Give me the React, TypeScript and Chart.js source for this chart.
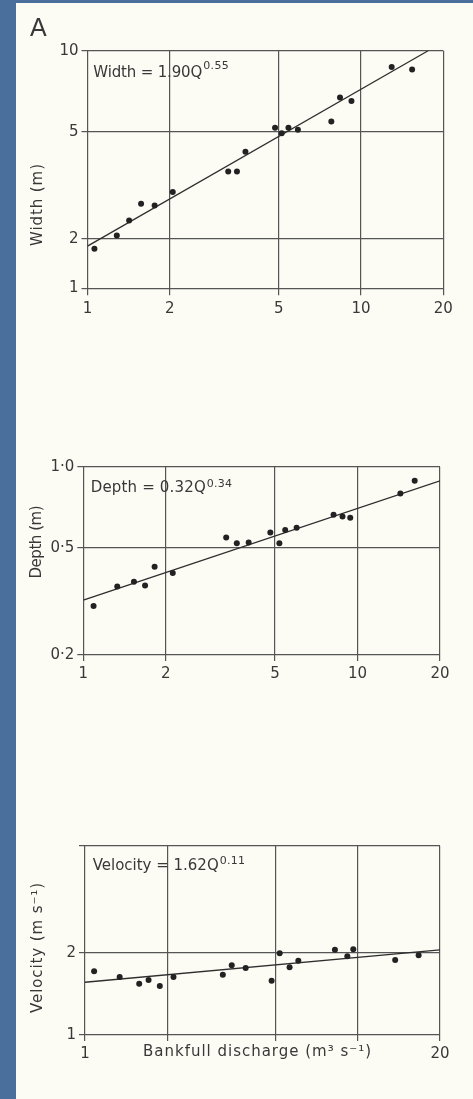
import React, { useEffect, useRef } from 'react';
import { Chart, registerables } from 'chart.js';

Chart.register(...registerables);

// ---------------- DATA ----------------
const dischargeTicks = [1, 2, 5, 10, 20];

// Width panel
const widthQ = [1.06, 1.28, 1.42, 1.57, 1.76, 2.05, 3.27, 3.52, 3.78, 4.85, 5.13, 5.43, 5.88, 7.79, 8.38, 9.23, 12.95, 15.38];
const widthM = [1.84, 2.06, 2.34, 2.7, 2.66, 2.99, 3.56, 3.56, 4.21, 5.18, 4.94, 5.17, 5.09, 5.46, 6.7, 6.5, 8.7, 8.52];
const widthFitQ = [1, 17.6];
const widthFitM = [1.88, 10];
const widthAxisMin = 1.31;
const widthTickValues = [widthAxisMin, 2, 5, 10];
const widthTickLabels = ['1', '2', '5', '10'];
const widthXLabels = ['1', '2', '5', '10', '20'];

// Depth panel
const depthQ = [1.09, 1.33, 1.53, 1.68, 1.82, 2.12, 3.32, 3.63, 4.01, 4.81, 5.19, 5.45, 6.0, 8.18, 8.82, 9.41, 14.34, 16.17];
const depthM = [0.304, 0.359, 0.374, 0.362, 0.425, 0.403, 0.546, 0.52, 0.523, 0.57, 0.52, 0.582, 0.593, 0.663, 0.654, 0.646, 0.796, 0.887];
const depthFitQ = [1, 20];
const depthFitM = [0.32, 0.886];
const depthTickValues = [0.2, 0.5, 1.0];
const depthTickLabels = ['0·2', '0·5', '1·0'];
const depthXLabels = ['1', '2', '5', '10', '20'];

// Velocity panel
const velocityQ = [1.08, 1.34, 1.58, 1.71, 1.88, 2.11, 3.2, 3.45, 3.88, 4.83, 5.17, 5.62, 6.05, 8.24, 9.15, 9.62, 13.7, 16.7];
const velocityV = [1.71, 1.63, 1.54, 1.59, 1.51, 1.63, 1.66, 1.8, 1.76, 1.58, 1.99, 1.77, 1.87, 2.05, 1.94, 2.06, 1.88, 1.96];
const velocityFitQ = [1, 20];
const velocityFitV = [1.56, 2.05];
const velocityAxisMax = 4.93;
const velocityTickValues = [1, 2, velocityAxisMax];
const velocityTickLabels = ['1', '2', ''];
const velocityXLabels = ['1', '', '', '', '20'];

// ---------------- STYLE ----------------
const FONT = '"DejaVu Sans", "Liberation Sans", sans-serif';
const INK = '#383838';
const GRID = '#555555';
const DOT = '#222222';
const PAPER = '#fcfcf5';
const BLUE = '#4b6f9c';

type TextItem = {
  text: string;
  x: number;
  y: number;
  font?: string;
  width?: number;
  rotate?: boolean;
  align?: CanvasTextAlign;
  sup?: string;
  supFont?: string;
  supDy?: number;
};

function makeTextPlugin(items: TextItem[]) {
  return {
    id: 'paperText',
    afterDraw(chart: any) {
      const ctx: any = chart.ctx;
      for (const it of items) {
        ctx.save();
        ctx.fillStyle = INK;
        ctx.font = it.font || `15px ${FONT}`;
        ctx.textBaseline = 'middle';
        ctx.letterSpacing = '0px';
        let ls = 0;
        if (it.width) {
          const w0 = ctx.measureText(it.text).width;
          ls = (it.width - w0) / Math.max(1, Array.from(it.text).length - 1);
          ctx.letterSpacing = ls + 'px';
        }
        if (it.rotate) {
          ctx.translate(it.x, it.y);
          ctx.rotate(-Math.PI / 2);
          ctx.textAlign = 'center';
          ctx.fillText(it.text, ls / 2, 0);
        } else {
          ctx.textAlign = it.align || 'left';
          ctx.fillText(it.text, it.x, it.y);
          if (it.sup) {
            const w = ctx.measureText(it.text).width;
            ctx.font = it.supFont || `11px ${FONT}`;
            ctx.letterSpacing = '0.3px';
            ctx.textAlign = 'left';
            ctx.fillText(it.sup, it.x + w + 1 - ls, it.y + (it.supDy || -6));
          }
        }
        ctx.restore();
      }
    },
  };
}

type PanelSpec = {
  q: number[];
  v: number[];
  fitQ: number[];
  fitV: number[];
  yMin: number;
  yMax: number;
  yTicks: number[];
  yLabels: string[];
  xLabels: string[];
  yAxisWidth: number;
  xAxisHeight: number;
  padTop: number;
  padRight: number;
  xPad: number;
  texts: TextItem[];
};

function makeConfig(p: PanelSpec): any {
  const tickFont = { family: FONT, size: 15 };
  return {
    type: 'scatter',
    data: {
      datasets: [
        {
          data: p.q.map((q, i) => ({ x: q, y: p.v[i] })),
          pointRadius: 3,
          pointBackgroundColor: DOT,
          pointBorderWidth: 0,
          showLine: false,
        },
        {
          data: p.fitQ.map((q, i) => ({ x: q, y: p.fitV[i] })),
          showLine: true,
          pointRadius: 0,
          borderColor: '#2e2e2e',
          borderWidth: 1.3,
          fill: false,
        },
      ],
    },
    options: {
      animation: false,
      responsive: false,
      events: [],
      layout: { padding: { left: 0, top: p.padTop, right: p.padRight, bottom: 0 } },
      plugins: { legend: { display: false }, tooltip: { enabled: false }, title: { display: false } },
      scales: {
        x: {
          type: 'logarithmic',
          min: 1,
          max: 20,
          afterBuildTicks: (s: any) => {
            s.ticks = dischargeTicks.map((v) => ({ value: v }));
          },
          afterFit: (s: any) => {
            s.height = p.xAxisHeight;
            s.paddingLeft = 0;
            s.paddingRight = 0;
          },
          ticks: {
            autoSkip: false,
            maxRotation: 0,
            minRotation: 0,
            padding: p.xPad,
            color: INK,
            font: tickFont,
            callback: (_v: any, i: number) => p.xLabels[i],
          },
          grid: { color: GRID, lineWidth: 1.2, tickLength: 6, drawTicks: true },
          border: { display: false },
        },
        y: {
          type: 'logarithmic',
          min: p.yMin,
          max: p.yMax,
          afterBuildTicks: (s: any) => {
            s.ticks = p.yTicks.map((v) => ({ value: v }));
          },
          afterFit: (s: any) => {
            s.width = p.yAxisWidth;
            s.paddingTop = 0;
            s.paddingBottom = 0;
          },
          ticks: {
            autoSkip: false,
            padding: 3,
            color: INK,
            font: tickFont,
            callback: (_v: any, i: number) => p.yLabels[i],
          },
          grid: { color: GRID, lineWidth: 1.2, tickLength: 6, drawTicks: true },
          border: { display: false },
        },
      },
    },
    plugins: [makeTextPlugin(p.texts)],
  };
}

function Panel({ spec, top, height }: { spec: PanelSpec; top: number; height: number }) {
  const ref = useRef<HTMLCanvasElement | null>(null);
  useEffect(() => {
    if (!ref.current) return;
    const chart = new Chart(ref.current, makeConfig(spec));
    return () => chart.destroy();
  }, []);
  return (
    <canvas
      ref={ref}
      width={473}
      height={height}
      style={{ position: 'absolute', left: 0, top, width: 473, height, display: 'block' }}
    />
  );
}

const widthSpec: PanelSpec = {
  q: widthQ,
  v: widthM,
  fitQ: widthFitQ,
  fitV: widthFitM,
  yMin: widthAxisMin,
  yMax: 10,
  yTicks: widthTickValues,
  yLabels: widthTickLabels,
  xLabels: widthXLabels,
  yAxisWidth: 87.5,
  xAxisHeight: 50.7,
  padTop: 50.7,
  padRight: 29.7,
  xPad: 5,
  texts: [
    { text: 'A', x: 30, y: 29, font: `25px "Liberation Sans", sans-serif` },
    { text: 'Width = 1.90Q', x: 93.3, y: 72.8, width: 109, sup: '0.55', supDy: -6.6 },
    { text: 'Width (m)', x: 38.3, y: 205, rotate: true, width: 82 },
  ],
};

const depthSpec: PanelSpec = {
  q: depthQ,
  v: depthM,
  fitQ: depthFitQ,
  fitV: depthFitM,
  yMin: 0.2,
  yMax: 1.0,
  yTicks: depthTickValues,
  yLabels: depthTickLabels,
  xLabels: depthXLabels,
  yAxisWidth: 83.3,
  xAxisHeight: 45,
  padTop: 86.7,
  padRight: 33,
  xPad: 4,
  texts: [
    { text: 'Depth = 0.32Q', x: 90.7, y: 108.3, width: 115, sup: '0.34', supDy: -4.5 },
    { text: 'Depth (m)', x: 36.7, y: 162, rotate: true, width: 73 },
  ],
};

const velocitySpec: PanelSpec = {
  q: velocityQ,
  v: velocityV,
  fitQ: velocityFitQ,
  fitV: velocityFitV,
  yMin: 1,
  yMax: velocityAxisMax,
  yTicks: velocityTickValues,
  yLabels: velocityTickLabels,
  xLabels: velocityXLabels,
  yAxisWidth: 85,
  xAxisHeight: 64,
  padTop: 65.7,
  padRight: 33,
  xPad: 4,
  texts: [
    { text: 'Velocity = 1.62Q', x: 92.7, y: 86, width: 126, sup: '0.11', supDy: -5 },
    { text: 'Velocity (m s⁻¹)', x: 38.3, y: 168, rotate: true, width: 130 },
    { text: 'Bankfull discharge (m³ s⁻¹)', x: 257.5, y: 272.5, align: 'center', width: 228 },
  ],
};

export default function App() {
  return (
    <div
      style={{
        position: 'absolute',
        left: 0,
        top: 0,
        width: 473,
        height: 1099,
        background: PAPER,
        overflow: 'hidden',
      }}
    >
      <div style={{ position: 'absolute', left: 0, top: 0, width: 16, height: 1099, background: BLUE }} />
      <div style={{ position: 'absolute', left: 0, top: 0, width: 473, height: 3, background: BLUE }} />
      <Panel spec={widthSpec} top={0} height={340} />
      <Panel spec={depthSpec} top={380} height={320} />
      <Panel spec={velocitySpec} top={780} height={319} />
    </div>
  );
}
